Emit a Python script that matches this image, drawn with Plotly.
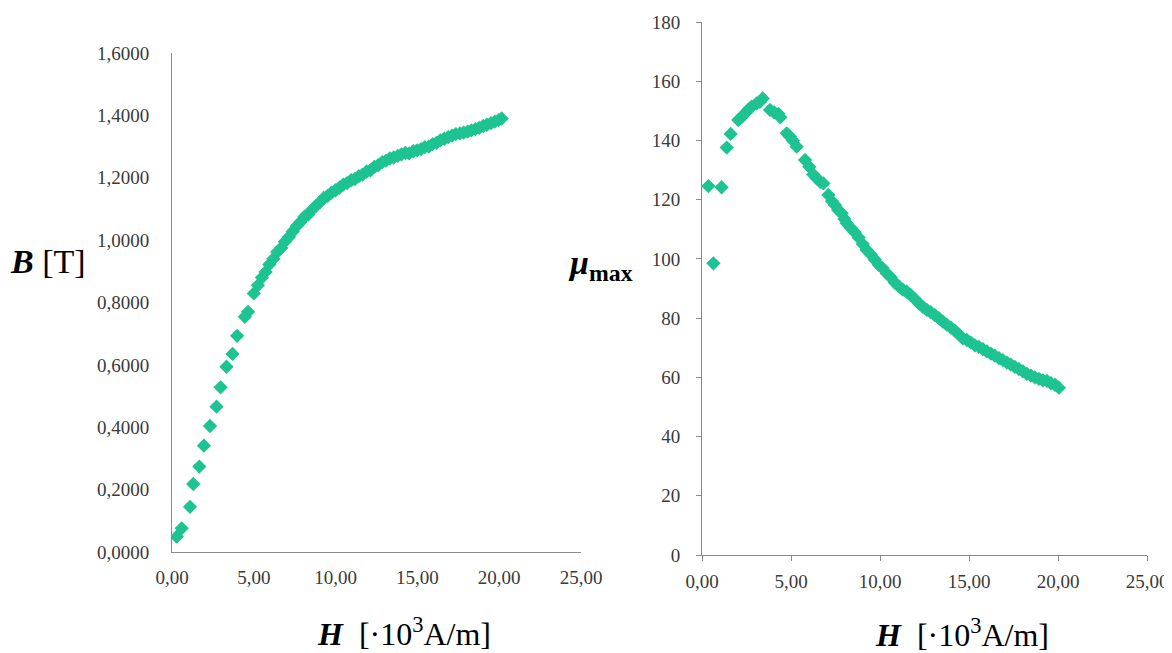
import plotly.graph_objects as go

# Left chart: B(H)
H_left = [0.29, 0.59, 1.10, 1.30, 1.67, 1.95, 2.32, 2.72, 2.97, 3.33, 3.70, 3.98, 4.45, 4.65, 5.00,
          5.25, 5.50, 5.72, 5.95, 6.20, 6.43, 6.68, 6.90, 7.15, 7.38, 7.62, 7.85, 8.10, 8.33, 8.57,
          8.80, 9.05, 9.28, 9.52, 9.75, 10.00, 10.23, 10.47, 10.70, 10.95, 11.18, 11.42, 11.65,
          11.90, 12.13, 12.37, 12.60, 12.85, 13.08, 13.32, 13.55, 13.80, 14.03, 14.27, 14.50,
          14.75, 14.98, 15.22, 15.45, 15.70, 15.93, 16.17, 16.40, 16.65, 16.88, 17.12, 17.35,
          17.60, 17.83, 18.07, 18.30, 18.55, 18.78, 19.02, 19.25, 19.50, 19.73, 19.97, 20.15]
B_left = [0.049, 0.076, 0.145, 0.218, 0.274, 0.341, 0.404, 0.466, 0.528, 0.594, 0.635, 0.693, 0.754, 0.770, 0.829,
          0.855, 0.880, 0.898, 0.922, 0.940, 0.962, 0.975, 0.995, 1.010, 1.028, 1.045, 1.058, 1.075, 1.082, 1.098,
          1.110, 1.122, 1.135, 1.142, 1.152, 1.160, 1.168, 1.178, 1.183, 1.192, 1.196, 1.205, 1.210,
          1.220, 1.224, 1.235, 1.240, 1.250, 1.255, 1.262, 1.265, 1.270, 1.275, 1.280, 1.278,
          1.285, 1.288, 1.292, 1.298, 1.300, 1.308, 1.312, 1.320, 1.325, 1.330, 1.335, 1.340,
          1.342, 1.345, 1.348, 1.352, 1.356, 1.360, 1.366, 1.370, 1.375, 1.380, 1.385, 1.390]

# Right chart: mu_max(H)
H_right = [0.36, 0.64, 1.10, 1.39, 1.61, 2.04, 2.25, 2.42, 2.62, 2.79, 3.07, 3.25, 3.41, 3.82, 4.05,
           4.29, 4.40, 4.76, 4.94, 5.10, 5.32, 5.79, 6.03, 6.25, 6.44, 6.65, 6.82, 7.10, 7.30, 7.47,
           7.65, 7.85, 8.00, 8.13, 8.35, 8.58, 8.80, 9.03, 9.25, 9.48, 9.70, 9.93, 10.15, 10.38,
           10.60, 10.83, 11.05, 11.28, 11.50, 11.72, 11.95, 12.18, 12.40, 12.63, 12.85, 13.08,
           13.30, 13.53, 13.75, 13.98, 14.20, 14.43, 14.65, 14.88, 15.10, 15.33, 15.55, 15.78,
           16.00, 16.23, 16.45, 16.68, 16.90, 17.13, 17.35, 17.58, 17.80, 18.03, 18.25, 18.48,
           18.70, 18.93, 19.15, 19.38, 19.60, 19.83, 20.05]
mu_right = [124.6, 98.5, 124.2, 137.6, 142.2, 146.9, 148.0, 149.2, 150.5, 151.4, 152.5, 153.0, 154.2, 150.3, 149.5,
            149.0, 147.8, 142.4, 141.3, 140.0, 137.9, 133.4, 131.1, 128.5, 127.2, 126.0, 125.5, 121.6, 119.5, 118.2,
            116.5, 115.4, 113.5, 112.0, 110.5, 109.0, 107.2, 105.0, 103.0, 101.5, 99.8, 98.0, 96.8, 95.1,
            93.8, 92.0, 90.8, 89.6, 88.9, 87.8, 86.5, 85.0, 83.8, 82.8, 82.0, 81.0,
            80.0, 78.8, 77.8, 76.8, 75.8, 74.5, 73.2, 72.6, 71.8, 70.8, 70.3, 69.5,
            68.8, 68.0, 67.3, 66.5, 65.8, 65.0, 64.3, 63.5, 62.8, 62.0, 61.2, 60.6,
            60.0, 59.5, 59.0, 58.8, 58.0, 57.5, 56.5]

x_ticks = [0, 5, 10, 15, 20, 25]
B_ticks = [0, 0.2, 0.4, 0.6, 0.8, 1.0, 1.2, 1.4, 1.6]
mu_ticks = [0, 20, 40, 60, 80, 100, 120, 140, 160, 180]

# figure size (page has an 8px body margin)
OFF = 8
W, Hpx = 1172 - OFF, 653 - OFF
def px_x(p):
    return (p - OFF) / W
def px_y(p):
    return (Hpx - (p - OFF)) / Hpx

green = "#1DC391"
axis_col = "#8a8a8a"
tick_font = dict(family="Liberation Serif", size=19, color="#3a3a3a")

fig = go.Figure()
fig.add_trace(go.Scatter(x=H_left, y=B_left, mode="markers", xaxis="x", yaxis="y",
                         marker=dict(symbol="diamond", size=11, color=green), showlegend=False))
fig.add_trace(go.Scatter(x=H_right, y=mu_right, mode="markers", xaxis="x2", yaxis="y2",
                         marker=dict(symbol="diamond", size=11, color=green), showlegend=False))

common = dict(showgrid=False, zeroline=False, showline=True, linecolor=axis_col, linewidth=1,
              tickfont=tick_font, automargin=False)

fig.update_layout(
    width=W, height=Hpx, margin=dict(l=0, r=0, t=0, b=0, pad=0), autosize=False,
    paper_bgcolor="white", plot_bgcolor="white",
    separators=",.",
    xaxis=dict(domain=[px_x(172), px_x(581)], range=[0, 25], tickvals=x_ticks, tickformat=".2f",
               ticks="", anchor="y", ticklabelstandoff=8, **common),
    yaxis=dict(domain=[px_y(552), px_y(53)], range=[0, 1.6], tickvals=B_ticks, tickformat=".4f",
               ticks="", anchor="x", ticklabelstandoff=18, **common),
    xaxis2=dict(domain=[px_x(702), px_x(1147)], range=[0, 25], tickvals=x_ticks, tickformat=".2f",
                ticks="outside", ticklen=5, tickcolor=axis_col, anchor="y2",
                ticklabelstandoff=4, **common),
    yaxis2=dict(domain=[px_y(555), px_y(22)], range=[0, 180], tickvals=mu_ticks,
                ticks="outside", ticklen=5, tickcolor=axis_col, anchor="x2",
                ticklabelstandoff=12, **common),
)

title_font = dict(family="Liberation Serif", size=34, color="#000000")
fig.add_annotation(text="<b><i>B</i></b> [T]", x=px_x(48), y=px_y(262), xref="paper", yref="paper",
                   showarrow=False, font=title_font, xanchor="center", yanchor="middle")
fig.add_annotation(text="<b><i>H</i></b>  [·10<sup>3</sup>A/m]", x=px_x(404), y=px_y(632),
                   xref="paper", yref="paper", showarrow=False,
                   font=dict(family="Liberation Serif", size=32, color="#000000"),
                   xanchor="center", yanchor="middle")
fig.add_annotation(text="<b><i>H</i></b>  [·10<sup>3</sup>A/m]", x=px_x(962), y=px_y(633),
                   xref="paper", yref="paper", showarrow=False,
                   font=dict(family="Liberation Serif", size=32, color="#000000"),
                   xanchor="center", yanchor="middle")
fig.add_annotation(text="<b><i>μ</i></b><sub><b>max</b></sub>", x=px_x(600), y=px_y(265),
                   xref="paper", yref="paper", showarrow=False,
                   font=dict(family="Liberation Serif", size=34, color="#000000"),
                   xanchor="center", yanchor="middle")

fig.write_html("out.html")
